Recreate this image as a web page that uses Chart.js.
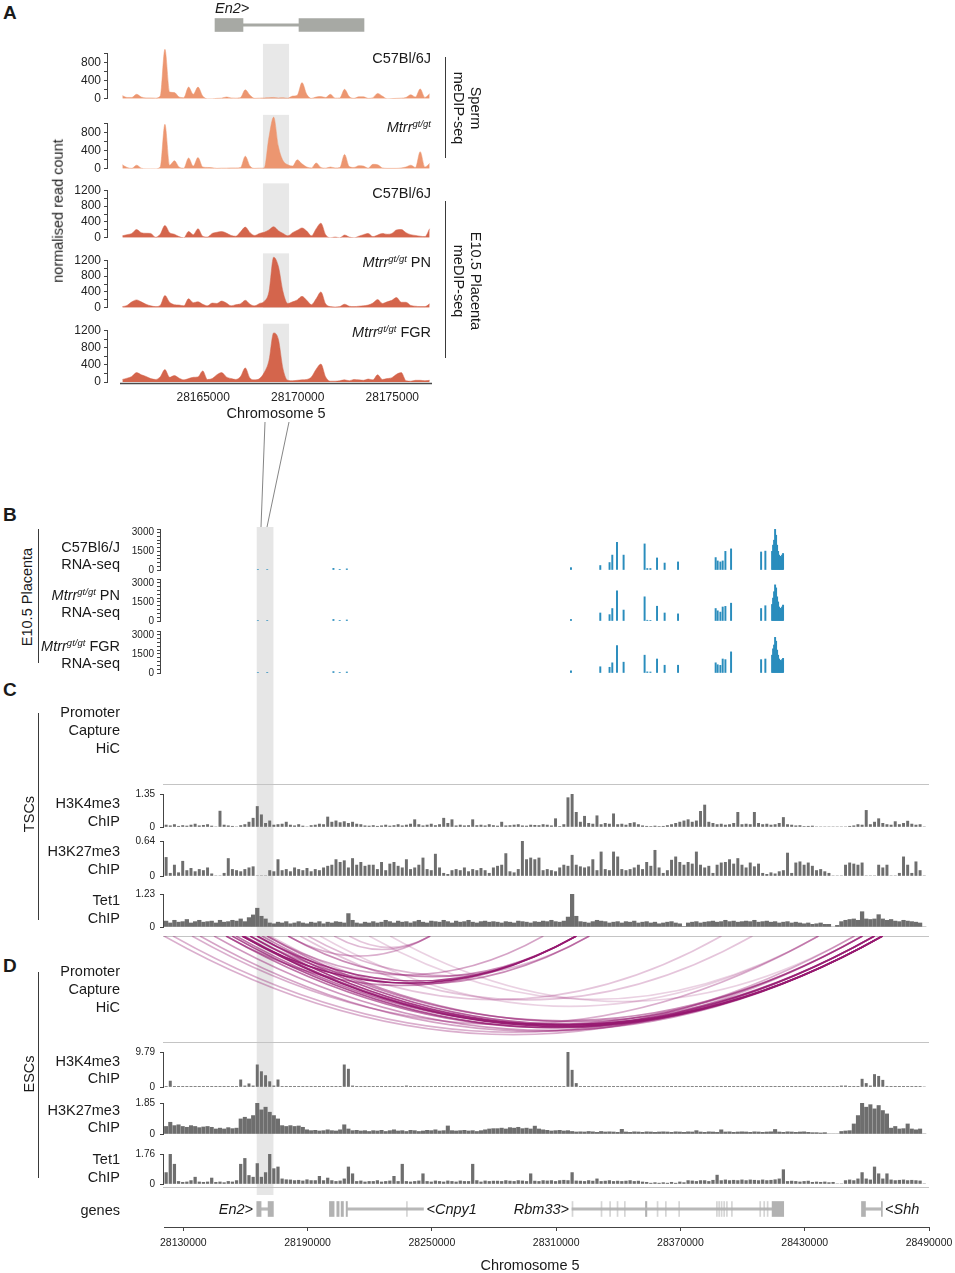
<!DOCTYPE html>
<html><head><meta charset="utf-8">
<script src="https://cdn.jsdelivr.net/npm/chart.js@4.4.1/dist/chart.umd.min.js"></script>
<style>
html,body{margin:0;padding:0;background:#fff}
body{position:relative;width:955px;height:1273px;overflow:hidden;font-family:"Liberation Sans",Arial,Helvetica,sans-serif;color:#1a1a1a}
.cv{position:absolute}
.txt{position:absolute;line-height:1;white-space:nowrap;z-index:6;color:#1a1a1a}
.sup{font-size:9.5px;vertical-align:5px}
.vl{position:absolute;width:1px;background:#3a3a3a;z-index:6}
</style></head><body>
<svg width="955" height="1273" style="position:absolute;left:0;top:0;z-index:7;pointer-events:none">
  <line x1="265" y1="422" x2="261" y2="527" stroke="#666" stroke-width="0.8"/>
  <line x1="289" y1="422" x2="267" y2="527" stroke="#666" stroke-width="0.8"/>
</svg>
<script>
// ---------------- DATA ----------------
// Panel A: meDIP-seq, 250 bp bins starting at 28160600
const aBinStart = 28160600, aBinSize = 250;
const aXTicks = [28165000, 28170000, 28175000];
const spermTicks = [0, 200, 400, 600, 800, 1000];
const spermTickLabels = [0, 400, 800];
const placentaTicks = [0, 200, 400, 600, 800, 1000, 1200];
const placentaTickLabels = [0, 400, 800, 1200];
const spermC57 = [70,30,30,100,40,20,20,15,60,1100, 150,140,40,25,260,100,260,60,0,0, 10,15,40,20,15,30,200,80,10,15, 20,25,30,20,25,15,60,80,360,100, 10,40,50,30,100,15,20,210,50,10, 45,45,10,25,120,60,0,5,10,15, 30,90,40,220,30,110];
const spermMtrr = [90,30,10,80,15,0,0,0,40,990, 80,180,40,15,240,60,250,40,30,25, 10,15,15,20,20,30,280,60,10,15, 20,700,1150,500,180,90,60,200,110,40, 20,130,30,15,40,20,30,320,50,30, 70,60,15,100,90,20,10,10,10,20, 40,80,30,380,40,120];
const placC57 = [50,80,110,210,130,115,110,15,90,310, 130,90,30,0,160,80,230,40,20,110, 140,160,120,60,40,150,270,130,60,110, 140,200,280,180,110,50,130,190,250,170, 50,230,370,80,0,20,0,70,20,0, 40,80,110,30,70,110,90,110,200,210, 130,80,60,40,30,230];
const placPN = [30,60,150,200,150,90,50,30,60,310, 140,80,70,50,230,130,150,90,50,120, 110,170,120,50,80,100,190,90,50,110, 160,400,1280,1050,400,110,150,200,290,190, 80,230,400,100,30,20,30,90,40,30, 40,50,70,120,210,110,150,190,260,140, 140,60,40,30,30,100];
const placFGR = [60,90,130,220,170,130,80,60,120,290, 110,150,90,50,80,110,120,260,60,80, 170,220,120,80,60,130,330,90,50,80, 220,500,1150,1000,300,40,30,40,50,60, 120,300,420,120,20,20,30,50,30,60, 50,40,70,50,170,60,80,100,180,220, 30,20,40,40,30,40];
const shadeRegionA = [28168160, 28169540];
const en2ExonsA = [[28165624, 28167104], [28170066, 28173504]];
const en2IntronA = [[28167104, 28170066]];

// Panel B: RNA-seq
const rnaPos = [28166000,28170500,28202470,28205500,28208940,28317150,28331300,28335780,28337100,28339370,28342560,28352700,28354000,28355500,28358700,28362370,28368840,28387000,28387970,28389280,28390400,28391700,28394440,28408940,28411000,28414250,28414730,28415210,28415700,28416180,28416660,28417140,28417620,28418100,28418580,28419060,28419540];
const rnaC57 = [40,40,130,30,90,190,360,600,1200,2230,1200,2100,120,120,970,560,650,1000,730,650,730,1500,1700,1450,1520,1500,2000,2400,3270,2800,2000,1500,1200,1100,1000,1200,1330];
const rnaPN  = [40,35,120,30,80,120,630,500,980,2380,860,1900,60,50,1160,630,560,980,800,700,1100,1150,1400,980,1200,1300,1800,2300,2840,2600,1900,1500,1100,1000,950,1100,1250];
const rnaFGR = [40,45,110,30,80,170,490,450,800,2150,850,1400,90,80,1100,610,610,800,650,600,1100,1050,1660,1050,1100,1400,1900,2200,2800,2500,1800,1400,1100,1000,900,1050,1150];
const rnaTicks = [0,300,600,900,1200,1500,1800,2100,2400,2700,3000,3300];
const rnaTickLabels = [0, 1500, 3000];

// Panels C/D: ChIP tracks, 2000 bp bins starting at 28120700
const chipBinStart = 28120700, chipBinSize = 2000;
const tscH3K4me3 = [0.08,0.05,0.1,0.03,0.06,0.04,0.08,0.12,0.05,0.07, 0.1,0.04,0,0.65,0.08,0.05,0.03,0,0.06,0.1, 0.2,0.36,0.84,0.5,0.15,0.25,0.08,0.1,0.12,0.2, 0.08,0.05,0.1,0.04,0,0.06,0.08,0.12,0.1,0.41, 0.2,0.25,0.18,0.22,0.15,0.2,0.12,0.1,0.05,0.04, 0.06,0.03,0.05,0.08,0.04,0.06,0.1,0.05,0.08,0.12, 0.3,0.1,0.05,0.08,0.12,0.06,0.1,0.36,0.15,0.3, 0.05,0.08,0.05,0.06,0.3,0.06,0.08,0.05,0.1,0.06, 0.04,0.2,0.05,0.06,0.08,0.1,0.05,0.04,0.08,0.07, 0.06,0.1,0.08,0.05,0.34,0.02,0.1,1.2,1.35,0.6, 0.2,0.44,0.15,0.12,0.46,0.1,0.15,0.12,0.54,0.1, 0.12,0.08,0.15,0.18,0.1,0.05,0.03,0.02,0.04,0.02, 0.03,0.06,0.1,0.15,0.2,0.25,0.3,0.2,0.25,0.64, 0.9,0.2,0.15,0.1,0.12,0.08,0.1,0.15,0.6,0.1, 0.12,0.1,0.6,0.15,0.1,0.12,0.08,0.1,0.15,0.39, 0.1,0.08,0.05,0.06,0.02,0.03,0.04,0,0,0, 0,0,0,0,0,0.03,0.05,0.1,0.08,0.68, 0.1,0.2,0.34,0.15,0.1,0.08,0.22,0.1,0.15,0.24, 0.12,0.08,0.1,0];
const tscH3K27me3 = [0.34,0.05,0.2,0.06,0.27,0.1,0.14,0.08,0.12,0.1, 0.15,0.04,0,0,0.05,0.32,0.12,0.1,0.08,0.12, 0.15,0.17,0,0,0,0.1,0.08,0.3,0.1,0.12, 0.08,0.15,0.12,0.1,0.14,0.08,0.12,0.1,0.15,0.18, 0.2,0.3,0.25,0.28,0.15,0.32,0.2,0.25,0.18,0.2, 0.2,0.12,0.25,0.1,0.22,0.25,0.18,0.15,0.3,0.12, 0.15,0.2,0.33,0.12,0.1,0.4,0.15,0.05,0.03,0.1, 0.12,0.1,0.15,0.08,0.12,0.1,0.14,0.1,0.05,0.15, 0.18,0.2,0.41,0.08,0.06,0.12,0.64,0.3,0.33,0.3, 0.33,0.1,0.12,0.1,0.08,0.15,0.2,0.18,0.38,0.2, 0.17,0.15,0.17,0.3,0.1,0.44,0.12,0.1,0.44,0.35, 0.12,0.1,0.12,0.15,0.2,0.12,0.25,0.18,0.47,0.15, 0.05,0.1,0.29,0.35,0.25,0.2,0.25,0.22,0.44,0.2, 0.15,0.18,0.05,0.2,0.24,0.25,0.3,0.22,0.32,0.2, 0.15,0.24,0.17,0.22,0.05,0.03,0.06,0.04,0.08,0.1, 0.42,0.05,0.24,0.26,0.2,0.24,0.18,0.1,0.12,0.08, 0.05,0,0,0,0.2,0.24,0.22,0.2,0.24,0, 0,0,0.2,0.15,0.2,0,0,0.05,0.35,0.2, 0.05,0.26,0.1,0];
const tscTet1 = [0.22,0.15,0.25,0.18,0.2,0.28,0.15,0.2,0.25,0.18, 0.2,0.22,0.15,0.25,0.18,0.2,0.25,0.22,0.3,0.2, 0.35,0.45,0.7,0.4,0.3,0.15,0.12,0.18,0.15,0.2, 0.12,0.15,0.2,0.15,0.12,0.18,0.15,0.2,0.12,0.18, 0.15,0.2,0.18,0.15,0.5,0.25,0.15,0.12,0.18,0.15, 0.2,0.15,0.18,0.25,0.2,0.15,0.22,0.18,0.2,0.15, 0.2,0.25,0.18,0.15,0.22,0.2,0.18,0.25,0.2,0.15, 0.22,0.18,0.2,0.25,0.18,0.15,0.2,0.22,0.18,0.2, 0.18,0.15,0.2,0.18,0.15,0.22,0.2,0.18,0.15,0.2, 0.18,0.22,0.2,0.25,0.2,0.18,0.22,0.37,1.23,0.4, 0.2,0.18,0.15,0.2,0.25,0.22,0.2,0.15,0.18,0.2, 0.15,0.2,0.18,0.22,0.15,0.18,0.2,0.15,0.18,0.12, 0.15,0.18,0.2,0.15,0.12,0.02,0.15,0.18,0.2,0.15, 0.18,0.2,0.22,0.18,0.2,0.25,0.2,0.22,0.18,0.2, 0.22,0.2,0.25,0.18,0.2,0.22,0.18,0.2,0.15,0.18, 0.2,0.15,0.18,0.15,0.12,0.15,0.1,0.12,0.15,0.1, 0.1,0,0.06,0.2,0.25,0.28,0.3,0.25,0.57,0.3, 0.28,0.3,0.46,0.3,0.25,0.28,0.22,0.2,0.25,0.22, 0.2,0.18,0.15,0];
const escH3K4me3 = [0.1,1.66,0.1,0.05,0.05,0.05,0.08,0.05,0.05,0.05, 0.05,0.05,0.05,0.05,0.05,0.05,0.05,0.1,2.0,0.3, 0.9,0.3,6.2,4.3,3.2,1.5,0.3,2.0,0.1,0.05, 0.05,0.03,0.05,0.05,0.02,0.05,0.05,0.03,0.05,0.05, 0.05,0.05,0.05,6.2,5.0,0.3,0.05,0.05,0.03,0.05, 0.05,0.05,0.02,0.05,0.05,0.03,0.05,0.05,0.3,0.05, 0.05,0.03,0.05,0.05,0.02,0.05,0.05,0.03,0.05,0.05, 0.05,0.05,0.03,0.05,0.05,0.02,0.05,0.05,0.05,0.03, 0.05,0.05,0.03,0.05,0.05,0.05,0.02,0.05,0.05,0.05, 0.03,0.05,0.05,0.05,0.02,0.05,0.1,9.79,4.7,1.0, 0.1,0.05,0.03,0.05,0.05,0.02,0.05,0.05,0.03,0.05, 0.05,0.05,0.02,0.05,0.05,0.03,0.05,0.05,0.05,0.02, 0.05,0.05,0.03,0.05,0.05,0.05,0.02,0.05,0.05,0.03, 0.05,0.05,0.05,0.02,0.05,0.05,0.03,0.05,0.05,0.2, 0.05,0.03,0.05,0.05,0.02,0.05,0.05,0.03,0.05,0.05, 0.05,0.02,0.05,0.05,0.03,0.05,0.05,0.02,0.05,0.05, 0.03,0.05,0.05,0.3,0.3,0.05,0.05,0.05,2.2,1.0, 0.3,3.5,3.0,1.9,0.2,0.05,0.05,0.05,0.05,0.05, 0.1,0.05,0.1,0];
const escH3K27me3 = [0.45,0.7,0.5,0.55,0.45,0.4,0.5,0.45,0.38,0.42, 0.45,0.4,0.3,0.35,0.3,0.38,0.32,0.35,0.9,1.0, 0.9,1.1,1.85,1.44,1.6,1.3,1.1,0.9,0.5,0.45, 0.5,0.45,0.48,0.4,0.25,0.2,0.22,0.18,0.2,0.25, 0.2,0.18,0.25,0.55,0.3,0.2,0.22,0.18,0.2,0.15, 0.2,0.18,0.22,0.15,0.2,0.25,0.18,0.2,0.15,0.22, 0.2,0.15,0.18,0.22,0.2,0.25,0.18,0.2,0.48,0.2, 0.18,0.2,0.22,0.18,0.2,0.15,0.2,0.25,0.3,0.32, 0.32,0.35,0.3,0.38,0.35,0.4,0.32,0.35,0.3,0.47, 0.3,0.25,0.22,0.18,0.2,0.22,0.18,0.2,0.15,0.12, 0.13,0.12,0.15,0.13,0.1,0.15,0.12,0.13,0.12,0.1, 0.28,0.12,0.1,0.13,0.12,0.1,0.13,0.12,0.1,0.12, 0.13,0.12,0.1,0.13,0.12,0.1,0.13,0.12,0.2,0.12, 0.1,0.13,0.12,0.1,0.25,0.12,0.13,0.1,0.12,0.13, 0.12,0.1,0.13,0.12,0.1,0.12,0.13,0.27,0.12,0.1, 0.13,0.12,0.1,0.12,0.13,0.1,0.08,0.08,0.06,0.08, 0,0,0,0.15,0.18,0.2,0.6,1.1,1.85,1.6, 1.75,1.5,1.7,1.4,1.2,0.35,0.45,0.3,0.32,0.6, 0.3,0.25,0.3,0];
const escTet1 = [0.67,1.76,1.16,0.15,0.1,0.12,0.2,0.4,0.12,0.1, 0.12,0.35,0.1,0.12,0.08,0.15,0.12,0.2,1.16,1.5, 0.5,0.4,1.2,0.4,0.67,1.76,0.9,1.0,0.3,0.25, 0.24,0.2,0.22,0.18,0.25,0.2,0.2,0.45,0.2,0.35, 0.2,0.15,0.18,0.3,1.0,0.6,0.15,0.18,0.12,0.15, 0.15,0.2,0.12,0.15,0.18,0.45,0.15,1.16,0.15,0.12, 0.15,0.18,0.6,0.15,0.12,0.18,0.15,0.12,0.18,0.15, 0.12,0.18,0.15,0.15,1.16,0.2,0.12,0.18,0.15,0.17, 0.17,0.15,0.2,0.17,0.15,0.2,0.18,0.15,0.6,0.17, 0.15,0.2,0.18,0.2,0.15,0.2,0.22,0.2,0.67,0.18, 0.17,0.15,0.2,0.17,0.3,0.15,0.17,0.2,0.15,0.17, 0.15,0.17,0.2,0.15,0.17,0.12,0.1,0.05,0.08,0.05, 0.08,0.05,0.1,0.05,0.12,0.08,0.2,0.18,0.15,0.2, 0.2,0.15,0.22,0.52,0.2,0.24,0.2,0.22,0.2,0.24, 0.2,0.24,0.22,0.2,0.24,0.2,0.22,0.25,0.3,0.84, 0.15,0.17,0.15,0.12,0.15,0.17,0.1,0.12,0.1,0.12, 0.08,0.1,0,0,0.2,0.24,0.2,0.3,0.67,0.3, 0.24,1.0,0.6,0.3,0.6,0.24,0.2,0.22,0.24,0.2, 0.22,0.2,0.18,0];
const chipMax = { tscH3K4me3: 1.35, tscH3K27me3: 0.64, tscTet1: 1.23, escH3K4me3: 9.79, escH3K27me3: 1.85, escTet1: 1.76 };

// Promoter capture HiC (ESCs): interaction start, end, score
const hicStart = [28120676,28125020,28134200,28138070,28144830,28150630,28153530,28155460,28158360,28159320,28162220,28165600,28168020,28170430,28150630,28158360,28162220,28165600,28170430,28180580,28190240,28180580,28202800,28210050,28171880,28186380,28196040,28219710,28229860];
const hicEnd   = [28457890,28454020,28436630,28463680,28467550,28463680,28467550,28457890,28467550,28463680,28467550,28467550,28457890,28463680,28319720,28319720,28326000,28319720,28303770,28319720,28326000,28249180,28249180,28249180,28389770,28404740,28436630,28436630,28454020];
const hicScore = [0.35,0.35,0.35,0.4,0.45,0.6,0.75,0.6,0.95,0.8,0.85,0.7,0.5,0.5,0.5,0.95,0.5,0.8,0.4,0.5,0.3,0.35,0.3,0.25,0.25,0.25,0.2,0.2,0.2];

// shaded En2 region (lower panels)
const shadeRegion = [28165600, 28173340];

// genes
const geneExons = [[28165460,28167540],[28170920,28173480],[28200530,28202800],[28204100,28205220],[28206180,28207300],[28208600,28209230],[28353100,28353800],[28414250,28419860],[28457400,28459330],[28467000,28467500]];
const geneIntrons = [[28167540,28170920],[28209230,28245940],[28317640,28414250],[28459330,28467000]];
const geneMinorExons = [[28237700,28238200],[28317640,28318140],[28331650,28332150],[28335800,28336300],[28339380,28339880],[28342900,28343400],[28358700,28359200],[28362710,28363210],[28369130,28369630],[28387350,28387850],[28388450,28388950],[28389610,28390110],[28390870,28391370],[28392180,28392680],[28394590,28395090],[28408260,28408760],[28410190,28410690],[28411840,28412340]];
const chromTicks = [28130000,28190000,28250000,28310000,28370000,28430000,28490000];

// ---------------- LAYOUT / RENDER ----------------
Chart.defaults.font.family = '"Liberation Sans", Arial, Helvetica, sans-serif';
Chart.defaults.color = '#222';
Chart.defaults.animation = false;
Chart.defaults.responsive = false;
Chart.defaults.devicePixelRatio = 1;
Chart.defaults.plugins.legend.display = false;
Chart.defaults.plugins.tooltip.enabled = false;

const G_END = 28490000, G_END_PX = 928.5, BP_PER_PX = 483.1;
const gMin = px => G_END - (G_END_PX - px) * BP_PER_PX;
const A_END = 28177100, A_END_PX = 432, A_BP_PER_PX = 16500 / 312;
const aMin = px => A_END - (A_END_PX - px) * A_BP_PER_PX;

function place(left, top, w, h, z) {
  const d = document.createElement('div');
  d.className = 'cv';
  d.style.cssText = `left:${left}px;top:${top}px;width:${w}px;height:${h}px;z-index:${z || 2}`;
  const c = document.createElement('canvas');
  c.width = Math.round(w); c.height = Math.round(h);
  c.style.width = Math.round(w) + 'px'; c.style.height = Math.round(h) + 'px';
  d.appendChild(c);
  document.body.appendChild(d);
  return c;
}

function track(o) {
  const yw = o.yw || 0, padT = o.padT ?? 10, padB = o.padB ?? 8, padR = o.padR ?? 4, xh = o.xh || 0;
  const W = yw + (o.right - o.axisX) + padR, H = padT + (o.bottom - o.top) + xh + padB;
  const cv = place(o.axisX - yw, o.top - padT, W, H, o.z);
  return new Chart(cv, {
    type: o.type,
    data: { datasets: o.datasets },
    options: {
      layout: { autoPadding: false, padding: { left: 0, top: padT, right: padR, bottom: padB } },
      scales: {
        x: {
          type: 'linear', min: o.xMin, max: o.xMax, offset: false, display: !!o.xTicks,
          afterFit: s => { s.height = xh; },
          afterBuildTicks: s => { if (o.xTicks) s.ticks = o.xTicks.map(v => ({ value: v })); },
          grid: { display: !!o.xTickLen, drawOnChartArea: false, drawTicks: true, tickLength: o.xTickLen || 0, color: '#444' },
          border: { display: !!o.xBorder, color: '#444', width: 1 },
          ticks: { maxRotation: 0, autoSkip: false, padding: o.xPad ?? 6, font: { size: o.xFont || 12 }, color: '#222', callback: v => String(v) }
        },
        y: {
          min: 0, max: o.yMax, reverse: !!o.yReverse, display: !!o.yTicks,
          afterFit: s => { s.width = yw; },
          afterBuildTicks: s => { if (o.yTicks) s.ticks = o.yTicks.map(v => ({ value: v })); },
          grid: { display: true, drawOnChartArea: false, drawTicks: true, tickLength: o.yTickLen || 4, color: '#444', lineWidth: 1 },
          border: { display: o.yBorder !== false, color: '#444', width: 1 },
          ticks: { padding: o.yPad ?? 3, autoSkip: false, font: { size: o.yFont || 10 }, color: '#222',
                   callback: v => (o.yLabels || []).includes(v) ? String(v) : '' }
        }
      }
    },
    plugins: o.plugins || []
  });
}

// panel A helpers: shade region, partial y-axis line, baseline
function shadeA(axisTop, up) {
  return { id: 'shadeA', beforeDatasetsDraw(ch) {
    const xs = ch.scales.x, ys = ch.scales.y, a = ch.chartArea, c = ch.ctx;
    const x1 = xs.getPixelForValue(shadeRegionA[0]), x2 = xs.getPixelForValue(shadeRegionA[1]);
    const yt = ys.getPixelForValue(axisTop) - up;
    c.save(); c.fillStyle = '#e8e8e8'; c.fillRect(x1, yt, x2 - x1, a.bottom - yt); c.restore();
  } };
}
function axisLineA(axisTop) {
  return { id: 'axisLineA', afterDraw(ch) {
    const ys = ch.scales.y, a = ch.chartArea, c = ch.ctx;
    c.save(); c.strokeStyle = '#444'; c.lineWidth = 1;
    c.beginPath(); c.moveTo(a.left - 0.5, ys.getPixelForValue(0)); c.lineTo(a.left - 0.5, ys.getPixelForValue(axisTop)); c.stroke(); c.restore();
  } };
}
const baseLineA = { id: 'baseLineA', afterDraw(ch) {
  const xs = ch.scales.x, a = ch.chartArea, c = ch.ctx;
  c.save(); c.strokeStyle = '#4a4a4a'; c.lineWidth = 1.5;
  c.beginPath(); c.moveTo(xs.getPixelForValue(aBinStart), a.bottom + 1.5); c.lineTo(a.right, a.bottom + 1.5); c.stroke(); c.restore();
} };

// ---- Panel A gene (En2) ----
(function () {
  const cv = place(108, 13, 324, 24, 2);
  new Chart(cv, {
    type: 'bar',
    data: { labels: ['En2'], datasets: [
      { data: en2ExonsA.map(r => ({ x: r, y: 'En2' })), backgroundColor: '#a7a9a4', barThickness: 13, grouped: false },
      { data: en2IntronA.map(r => ({ x: r, y: 'En2' })), backgroundColor: '#a7a9a4', barThickness: 2.5, grouped: false }
    ] },
    options: { indexAxis: 'y', layout: { autoPadding: false, padding: 0 },
      scales: { x: { type: 'linear', min: aMin(108), max: A_END, display: false }, y: { display: false } } }
  });
})();

// ---- Panel A tracks ----
// axisTopPx: pixel of the top labelled tick; yMax extends above so tall peaks are not clipped
const aTracks = [
  { vals: spermC57, color: '#ec9670', axisTopPx: 52, bottom: 102, axisTop: 1000, yMax: 1170, ticks: spermTicks, labels: spermTickLabels, up: 10 },
  { vals: spermMtrr, color: '#ec9670', axisTopPx: 122, bottom: 172, axisTop: 1000, yMax: 1170, ticks: spermTicks, labels: spermTickLabels, up: 9 },
  { vals: placC57, color: '#d4654c', axisTopPx: 189, bottom: 242, axisTop: 1200, yMax: 1330, ticks: placentaTicks, labels: placentaTickLabels, up: 7 },
  { vals: placPN, color: '#d4654c', axisTopPx: 259, bottom: 312, axisTop: 1200, yMax: 1330, ticks: placentaTicks, labels: placentaTickLabels, up: 7 },
  { vals: placFGR, color: '#d4654c', axisTopPx: 329, bottom: 382, axisTop: 1200, yMax: 1330, ticks: placentaTicks, labels: placentaTickLabels, up: 7 }
];
aTracks.forEach((t, k) => {
  const last = k === aTracks.length - 1;
  const pxPerUnit = (t.bottom - t.axisTopPx) / t.axisTop;
  const top = t.bottom - t.yMax * pxPerUnit;
  track({
    type: 'line', axisX: 108, right: 432, top: top, bottom: t.bottom, yw: 60, padT: 8, padB: 6, padR: 40,
    xMin: aMin(108), xMax: A_END, yMax: t.yMax, yTicks: t.ticks, yLabels: t.labels, yFont: 12, yTickLen: 4, yPad: 3, yBorder: false,
    xTicks: last ? aXTicks : null, xh: last ? 26 : 0, xPad: 8, xFont: 12,
    datasets: [{ data: t.vals.map((v, i) => ({ x: aBinStart + (i + 0.5) * aBinSize, y: v })),
      fill: 'origin', backgroundColor: t.color, borderColor: t.color, borderWidth: 0.5, pointRadius: 0,
      cubicInterpolationMode: 'monotone' }],
    plugins: last ? [shadeA(t.axisTop, t.up), axisLineA(t.axisTop), baseLineA] : [shadeA(t.axisTop, t.up), axisLineA(t.axisTop)]
  });
});

// ---- Background shade for panels B-D ----
(function () {
  const cv = place(163, 527, 765.5, 668, 1);
  new Chart(cv, {
    type: 'bar',
    data: { labels: ['r'], datasets: [{ data: [{ x: shadeRegion, y: 'r' }], backgroundColor: '#e6e6e6', barPercentage: 1, categoryPercentage: 1 }] },
    options: { indexAxis: 'y', layout: { autoPadding: false, padding: 0 },
      scales: { x: { type: 'linear', min: gMin(163), max: G_END, display: false }, y: { display: false } } }
  });
})();

// ---- Panel B RNA-seq ----
const bTracks = [
  { vals: rnaC57, top: 528, bottom: 573 },
  { vals: rnaPN, top: 578, bottom: 624 },
  { vals: rnaFGR, top: 630, bottom: 675.5 }
];
bTracks.forEach(t => {
  track({
    type: 'bar', axisX: 160, right: G_END_PX, top: t.top, bottom: t.bottom, yw: 50, padT: 8, padB: 6, padR: 4,
    xMin: gMin(160), xMax: G_END, yMax: 3300, yTicks: rnaTicks, yLabels: rnaTickLabels, yFont: 10, yTickLen: 3, yPad: 3,
    datasets: [{ data: t.vals.map((v, i) => ({ x: rnaPos[i], y: v })), backgroundColor: '#2a8dbd', barThickness: 1.3 }]
  });
});

// ---- HiC panels ----
function hicPlugin(starts, ends, scores, lines) {
  return { id: 'hic', afterDatasetsDraw(ch) {
    const xs = ch.scales.x, ys = ch.scales.y, a = ch.chartArea, c = ch.ctx;
    c.save();
    c.strokeStyle = '#c4c4c4'; c.lineWidth = 1.2;
    if (lines.top) { c.beginPath(); c.moveTo(a.left, a.top + 0.5); c.lineTo(a.right, a.top + 0.5); c.stroke(); }
    if (lines.bottom) { c.beginPath(); c.moveTo(a.left, a.bottom - 0.5); c.lineTo(a.right, a.bottom - 0.5); c.stroke(); }
    c.beginPath(); c.rect(a.left, a.top, a.right - a.left, a.bottom - a.top); c.clip();
    const idx = starts.map((_, i) => i).sort((p, q) => scores[p] - scores[q]);
    idx.forEach(i => {
      const x1 = xs.getPixelForValue(starts[i]), x2 = xs.getPixelForValue(ends[i]);
      const y0 = ys.getPixelForValue(0), yb = ys.getPixelForValue(ends[i] - starts[i]);
      c.strokeStyle = `rgba(150,24,112,${scores[i]})`; c.lineWidth = 1.6;
      c.beginPath(); c.moveTo(x1, y0); c.quadraticCurveTo((x1 + x2) / 2, 2 * yb - y0, x2, y0); c.stroke();
    });
    c.restore();
  } };
}
track({ type: 'scatter', axisX: 163, right: G_END_PX, top: 700, bottom: 785, padT: 0, padB: 0, padR: 0,
  xMin: gMin(163), xMax: G_END, yMax: 366000, yReverse: true,
  datasets: [{ data: [], pointRadius: 0 }], plugins: [hicPlugin([], [], [], { top: false, bottom: true })] });
track({ type: 'scatter', axisX: 163, right: G_END_PX, top: 936, bottom: 1043, padT: 0, padB: 0, padR: 0,
  xMin: gMin(163), xMax: G_END, yMax: 366000, yReverse: true,
  datasets: [{ data: hicStart.map(s => ({ x: s, y: 0 })), pointRadius: 0 }],
  plugins: [hicPlugin(hicStart, hicEnd, hicScore, { top: true, bottom: true })] });

// ---- ChIP tracks ----
const chipTracks = [
  { vals: tscH3K4me3, max: chipMax.tscH3K4me3, top: 791, bottom: 832, bw: 2.3 },
  { vals: tscH3K27me3, max: chipMax.tscH3K27me3, top: 838, bottom: 881, bw: 2.3 },
  { vals: tscTet1, max: chipMax.tscTet1, top: 891, bottom: 932, bw: 3.6 },
  { vals: escH3K4me3, max: chipMax.escH3K4me3, top: 1049, bottom: 1092, bw: 2.3 },
  { vals: escH3K27me3, max: chipMax.escH3K27me3, top: 1100, bottom: 1139, bw: 3.4 },
  { vals: escTet1, max: chipMax.escTet1, top: 1151, bottom: 1189, bw: 2.6, line: true }
];
const bottomLine = { id: 'bl', afterDraw(ch) {
  const a = ch.chartArea, c = ch.ctx; c.save(); c.strokeStyle = '#c4c4c4'; c.lineWidth = 1.2;
  c.beginPath(); c.moveTo(a.left, a.bottom + 3.5); c.lineTo(a.right, a.bottom + 3.5); c.stroke(); c.restore();
} };
chipTracks.forEach(t => {
  track({
    type: 'bar', axisX: 163, right: G_END_PX, top: t.top, bottom: t.bottom, yw: 50, padT: 8, padB: 6, padR: 4,
    xMin: gMin(163), xMax: G_END, yMax: t.max, yTicks: [0, t.max], yLabels: [0, t.max], yFont: 10, yTickLen: 3, yPad: 5,
    datasets: [{ data: t.vals.map((v, i) => ({ x: chipBinStart + (i + 0.5) * chipBinSize, y: v })), backgroundColor: '#6e6e6e', barThickness: t.bw }],
    plugins: t.line ? [bottomLine] : []
  });
});

// ---- genes + chromosome axis ----
(function () {
  const padL = 20, padR = 34, top = 1191, bottom = 1227, xh = 26;
  const cv = place(164 - padL, top, padL + (G_END_PX - 164) + padR, (bottom - top) + xh + 4, 3);
  new Chart(cv, {
    type: 'bar',
    data: { labels: ['genes'], datasets: [
      { data: geneExons.map(r => ({ x: r, y: 'genes' })), backgroundColor: '#b2b2b2', barThickness: 15, grouped: false },
      { data: geneMinorExons.map(r => ({ x: r, y: 'genes' })), backgroundColor: 'rgba(178,178,178,0.55)', barThickness: 15, grouped: false },
      { data: geneIntrons.map(r => ({ x: r, y: 'genes' })), backgroundColor: '#b8b8b8', barThickness: 2.5, grouped: false }
    ] },
    options: { indexAxis: 'y', layout: { autoPadding: false, padding: { left: padL, right: padR, top: 0, bottom: 4 } },
      scales: {
        x: { type: 'linear', min: gMin(164), max: G_END, offset: false, position: 'bottom',
          afterFit: s => { s.height = xh; },
          afterBuildTicks: s => { s.ticks = chromTicks.map(v => ({ value: v })); },
          grid: { display: true, drawOnChartArea: false, tickLength: 4, color: '#444' },
          border: { display: true, color: '#444', width: 1 },
          ticks: { maxRotation: 0, autoSkip: false, padding: 6, font: { size: 10.5 }, color: '#222', callback: v => String(v) } },
        y: { display: false }
      } }
  });
})();

// ---------------- TEXT ----------------
function T(html, x, y, o = {}) {
  const d = document.createElement('div');
  d.className = 'txt';
  d.innerHTML = html;
  const size = o.size || 14.5;
  const tx = o.align === 'r' ? '-100%' : o.align === 'c' ? '-50%' : '0';
  d.style.left = x + 'px'; d.style.top = y + 'px'; d.style.fontSize = size + 'px';
  if (o.bold) d.style.fontWeight = 'bold';
  if (o.italic) d.style.fontStyle = 'italic';
  d.style.transform = o.rot ? `translate(-50%,-50%) rotate(${o.rot}deg)` : `translate(${tx},-50%)`;
  document.body.appendChild(d);
}
function VL(x, y1, y2) {
  const d = document.createElement('div'); d.className = 'vl';
  d.style.left = x + 'px'; d.style.top = y1 + 'px'; d.style.height = (y2 - y1) + 'px';
  document.body.appendChild(d);
}
const mtrr = '<i>Mtrr</i><span class="sup"><i>gt/gt</i></span>';

T('A', 3, 12, { bold: true, size: 19 });
T('B', 3, 514, { bold: true, size: 19 });
T('C', 3, 689, { bold: true, size: 19 });
T('D', 3, 965, { bold: true, size: 19 });

T('En2&gt;', 215, 8, { italic: true });
T('C57Bl/6J', 431, 58, { align: 'r' });
T(mtrr, 431, 127, { align: 'r' });
T('C57Bl/6J', 431, 193, { align: 'r' });
T(mtrr + ' PN', 431, 262, { align: 'r' });
T(mtrr + ' FGR', 431, 332, { align: 'r' });
T('normalised read count', 58, 211, { rot: -90 });
T('Chromosome 5', 276, 413, { align: 'c' });
VL(445, 57, 158); VL(445, 201, 358);
T('Sperm', 476, 108, { rot: 90 });
T('meDIP-seq', 459, 108, { rot: 90 });
T('E10.5 Placenta', 476, 281, { rot: 90 });
T('meDIP-seq', 459, 281, { rot: 90 });

VL(38, 529, 663);
T('E10.5 Placenta', 27, 597, { rot: -90 });
T('C57Bl6/J', 120, 547, { align: 'r' });
T('RNA-seq', 120, 564, { align: 'r' });
T(mtrr + ' PN', 120, 595, { align: 'r' });
T('RNA-seq', 120, 612, { align: 'r' });
T(mtrr + ' FGR', 120, 646, { align: 'r' });
T('RNA-seq', 120, 663, { align: 'r' });

VL(38, 713, 920);
T('TSCs', 29, 814, { rot: -90 });
T('Promoter', 120, 712, { align: 'r' });
T('Capture', 120, 730, { align: 'r' });
T('HiC', 120, 748, { align: 'r' });
T('H3K4me3', 120, 803, { align: 'r' });
T('ChIP', 120, 821, { align: 'r' });
T('H3K27me3', 120, 851, { align: 'r' });
T('ChIP', 120, 869, { align: 'r' });
T('Tet1', 120, 900, { align: 'r' });
T('ChIP', 120, 918, { align: 'r' });

VL(38, 972, 1178);
T('ESCs', 29, 1074, { rot: -90 });
T('Promoter', 120, 971, { align: 'r' });
T('Capture', 120, 989, { align: 'r' });
T('HiC', 120, 1007, { align: 'r' });
T('H3K4me3', 120, 1061, { align: 'r' });
T('ChIP', 120, 1078, { align: 'r' });
T('H3K27me3', 120, 1110, { align: 'r' });
T('ChIP', 120, 1127, { align: 'r' });
T('Tet1', 120, 1159, { align: 'r' });
T('ChIP', 120, 1177, { align: 'r' });

T('genes', 120, 1210, { align: 'r' });
T('En2&gt;', 253, 1209, { align: 'r', italic: true });
T('&lt;Cnpy1', 426.5, 1209, { italic: true });
T('Rbm33&gt;', 569, 1209, { align: 'r', italic: true });
T('&lt;Shh', 885, 1209, { italic: true });
T('Chromosome 5', 530, 1265, { align: 'c' });
</script>
</body></html>
